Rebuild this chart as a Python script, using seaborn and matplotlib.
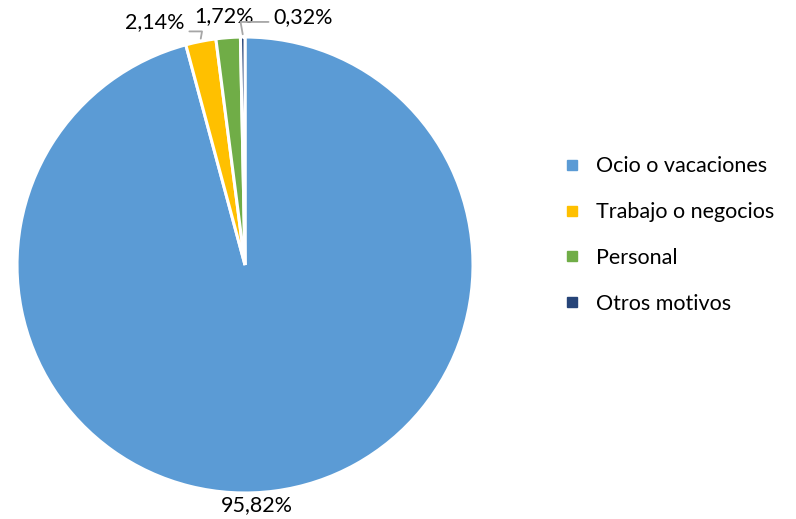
import matplotlib
matplotlib.use('Agg')
import matplotlib.pyplot as plt
import seaborn as sns
import numpy as np
from matplotlib.lines import Line2D

categorias = ['Ocio o vacaciones', 'Trabajo o negocios', 'Personal', 'Otros motivos']
valores = [95.82, 2.14, 1.72, 0.32]
etiquetas = ['95,82%', '2,14%', '1,72%', '0,32%']
colores = ['#5B9BD5', '#FFC000', '#70AD47', '#264478']

sns.set_theme(style='white')
plt.rcParams['font.family'] = ['Lato', 'DejaVu Sans']

fig = plt.figure(figsize=(7.96, 5.19), dpi=100)
ax = fig.add_axes([0.02136, 0.0501, 0.5729, 0.8786])

wedges, _ = ax.pie(valores, colors=colores, startangle=90, counterclock=False,
                   radius=1, wedgeprops=dict(edgecolor='white', linewidth=2.2))
ax.set_xlim(-1, 1)
ax.set_ylim(-1, 1)
ax.set_aspect('equal')
ax.axis('off')

# posiciones de las etiquetas (relativas al centro, radio = 1)
pos_texto = [(0.05, -1.053), (-0.395, 1.064), (-0.092, 1.09), (0.254, 1.088)]
con_linea = [False, True, False, True]
gris = '#A6A6A6'
tam = 15.5

for w, txt, pos, linea in zip(wedges, etiquetas, pos_texto, con_linea):
    ang = np.deg2rad((w.theta1 + w.theta2) / 2)
    borde = (np.cos(ang) * 1.0, np.sin(ang) * 1.0)
    if linea:
        if pos[0] < borde[0]:
            rel, angB = (1.0, 0.05), 80
        else:
            rel, angB = (0.0, 0.25), 100
        ax.annotate(txt, xy=(borde[0], borde[1] + 0.012), xytext=pos,
                    ha='center', va='center', fontsize=tam, color='black',
                    annotation_clip=False,
                    arrowprops=dict(arrowstyle='-', color=gris, lw=1.3,
                                    relpos=rel, shrinkA=1, shrinkB=0,
                                    connectionstyle=f'angle,angleA=0,angleB={angB},rad=0'))
    else:
        ax.text(pos[0], pos[1], txt, ha='center', va='center', fontsize=tam,
                color='black', clip_on=False)

handles = [Line2D([0], [0], marker='s', linestyle='', markersize=7,
                  markerfacecolor=c, markeredgecolor=c) for c in colores]
fig.legend(handles, categorias, loc='center left', bbox_to_anchor=(0.683, 0.547),
           frameon=False, fontsize=tam, labelspacing=1.2, handletextpad=0.75,
           handlelength=0.8, labelcolor='black')

fig.savefig('out.png', dpi=100)
